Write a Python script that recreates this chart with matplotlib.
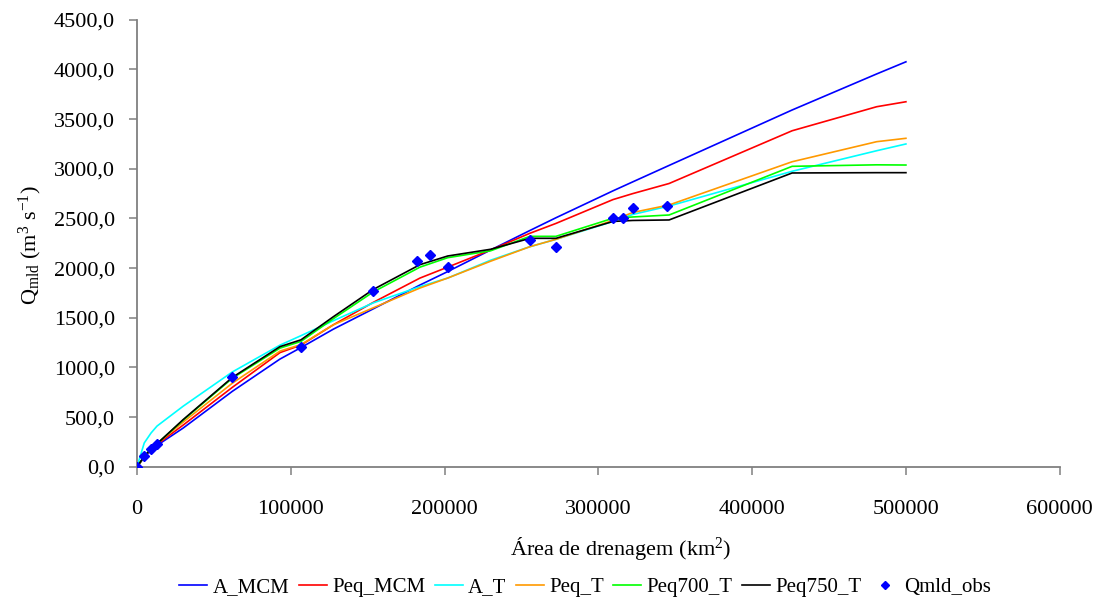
import numpy as np
import matplotlib
matplotlib.use("Agg")
import matplotlib.pyplot as plt
from matplotlib.ticker import FuncFormatter, MultipleLocator

plt.rcParams['font.family'] = ['Liberation Serif', 'DejaVu Serif']
plt.rcParams['mathtext.fontset'] = 'custom'
plt.rcParams['mathtext.rm'] = 'Liberation Serif'
plt.rcParams['mathtext.it'] = 'Liberation Serif:italic'

# --- data ---
area = [0, 4700, 9100, 13000, 30000, 62000, 93000, 106600, 127600, 153600, 184000,
        202000, 230000, 255500, 272400, 309500, 322300, 346000, 426000, 481000, 500000]

a_mcm = [0, 95, 165, 215, 390, 760, 1085, 1200, 1385, 1590, 1830,
         1965, 2183, 2379, 2507, 2778, 2868, 3034, 3592, 3955, 4077]
peq_mcm = [0, 100, 175, 225, 420, 800, 1150, 1225, 1429, 1655, 1900,
           2010, 2183, 2351, 2450, 2690, 2750, 2852, 3383, 3625, 3675]
a_t = [0, 240, 340, 410, 610, 955, 1225, 1320, 1470, 1650, 1814,
       1900, 2080, 2216, 2290, 2470, 2540, 2625, 2975, 3182, 3250]
peq_t = [0, 100, 180, 235, 450, 842, 1165, 1230, 1429, 1600, 1800,
         1900, 2070, 2216, 2290, 2480, 2560, 2636, 3071, 3273, 3307]
peq700_t = [0, 105, 180, 232, 470, 892, 1195, 1262, 1490, 1760, 2010,
            2105, 2175, 2320, 2320, 2502, 2515, 2535, 3025, 3040, 3038]
peq750_t = [0, 105, 180, 232, 475, 900, 1210, 1278, 1510, 1785, 2035,
            2122, 2190, 2300, 2300, 2470, 2480, 2485, 2958, 2961, 2961]

obs_x = [0, 4700, 9100, 13000, 62000, 106600, 153600, 182200, 190700, 202000,
         255500, 272400, 309500, 315800, 322300, 344600]
obs_y = [0, 104, 178, 231, 905, 1207, 1774, 2075, 2133, 2015,
         2280, 2216, 2508, 2508, 2602, 2622]

series = [
    ("A_MCM", a_mcm, "#0000FF"),
    ("Peq_MCM", peq_mcm, "#FF0000"),
    ("A_T", a_t, "#00FFFF"),
    ("Peq_T", peq_t, "#FF9900"),
    ("Peq700_T", peq700_t, "#00FF00"),
    ("Peq750_T", peq750_t, "#000000"),
]

fig = plt.figure(figsize=(11.05, 6.0), dpi=100)
ax = fig.add_axes([0.124, 0.222, 0.835, 0.745])

for name, vals, col in series:
    ax.plot(area, vals, color=col, lw=1.2, label=name)
ax.plot(obs_x, obs_y, linestyle="none", marker="D", ms=4.6, color="#0000FF",
        label="Qmld_obs", zorder=5)

ax.set_xlim(0, 600000)
ax.set_ylim(0, 4500)
ax.xaxis.set_major_locator(MultipleLocator(100000))
ax.yaxis.set_major_locator(MultipleLocator(500))
ax.yaxis.set_major_formatter(FuncFormatter(lambda v, p: f"{v:.1f}".replace(".", ",")))
ax.xaxis.set_major_formatter(FuncFormatter(lambda v, p: f"{int(v)}"))

for s in ["top", "right"]:
    ax.spines[s].set_visible(False)
for s in ["left", "bottom"]:
    ax.spines[s].set_color("#808080")
    ax.spines[s].set_linewidth(1.3)
ax.tick_params(axis="both", direction="out", length=6, width=1.1, color="#808080",
               labelsize=16)
ax.tick_params(axis="y", pad=10)
ax.tick_params(axis="x", pad=18)

fig.text(621 / 1105, 1 - 548 / 600, "Área de drenagem (km$^2$)", fontsize=16,
         ha="center", va="center")
fig.text(30 / 1105, 1 - 245 / 600, "Q$_{\\mathrm{mld}}$ (m$^3$ s$^{-1}$)", fontsize=16,
         ha="center", va="center", rotation=90)

fig.legend(loc="center", bbox_to_anchor=(585 / 1105, 1 - 587 / 600), ncol=7,
           frameon=False, fontsize=15, handlelength=1.35, handletextpad=0.25,
           columnspacing=0.45, markerscale=0.8, borderpad=0, borderaxespad=0)

plt.savefig("out.png", dpi=100)
